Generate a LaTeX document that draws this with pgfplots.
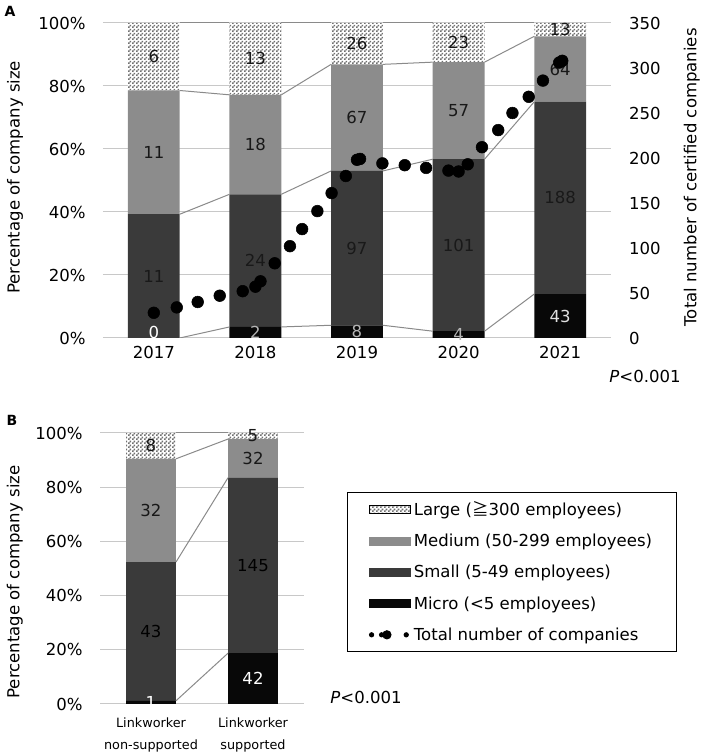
\documentclass[border=0pt]{standalone}
\usepackage{fontspec}
\setmainfont{DejaVu Sans}
\newfontfamily\cjk{Noto Sans CJK JP}
\usepackage{pgfplots}
\pgfplotsset{compat=1.18}
\usetikzlibrary{patterns}

\pgfdeclarepatternformonly{checker}{\pgfpointorigin}{\pgfqpoint{3pt}{3pt}}{\pgfqpoint{3pt}{3pt}}{%
  \pgfpathrectangle{\pgfpointorigin}{\pgfqpoint{1.5pt}{1.5pt}}%
  \pgfpathrectangle{\pgfqpoint{1.5pt}{1.5pt}}{\pgfqpoint{1.5pt}{1.5pt}}%
  \pgfusepath{fill}}

\definecolor{cmed}{HTML}{8C8C8C}
\definecolor{csmall}{HTML}{3A3A3A}
\definecolor{cmicro}{HTML}{080808}
\definecolor{cgrid}{HTML}{C8C8C8}
\definecolor{cconn}{HTML}{8A8A8A}
\definecolor{cdark}{HTML}{181818}
\definecolor{clight}{HTML}{B4B4B4}
\definecolor{cpat}{HTML}{707070}

\newcommand\fz{\fontsize{12.4}{14.5}\selectfont}
\newcommand\fs{\fontsize{9.6}{16.5}\selectfont}

\pgfplotsset{
  base/.style={scale only axis, ymin=0, ymax=100,
    /pgf/number format/assume math mode=true,
    tick style={draw=none}, axis line style={draw=none},
    tick label style={font=\fz}, label style={font=\fz}},
  lab/.style={draw=none, mark=none, forget plot, nodes near coords,
    point meta=explicit symbolic, nodes near coords align=center,
    nodes near coords style={font=\fz, text=#1, inner sep=0pt}},
  conn/.style={cconn, line width=0.75pt, unbounded coords=jump, forget plot, mark=none},
}

\begin{document}
\begin{tikzpicture}
\useasboundingbox (0,0) rectangle (531pt,567pt);

% ---------------- Panel A: bars ----------------
\begin{axis}[base, at={(77.25pt,313.5pt)}, anchor=south west,
  width=381pt, height=236.25pt, xmin=-0.5, xmax=4.5,
  ybar stacked, bar width=0.51,
  ymajorgrids, grid style={cgrid, line width=0.75pt},
  ytick={0,20,...,100}, yticklabel={\pgfmathprintnumber{\tick}\%},
  yticklabel style={xshift=-9.5pt},
  xtick={0,1,2,3,4}, xticklabels={2017,2018,2019,2020,2021},
  xticklabel style={yshift=-2.5pt},
  ylabel={Percentage of company size},
  ylabel style={at={(axis description cs:-0.173,0.51)}, anchor=center}]
\addplot[fill=cmicro, draw=none] coordinates {(0,0) (1,3.509) (2,4.040) (3,2.162) (4,13.961)};
\addplot[fill=csmall, draw=none] coordinates {(0,39.286) (1,42.105) (2,48.990) (3,54.595) (4,61.039)};
\addplot[fill=cmed, draw=none] coordinates {(0,39.286) (1,31.579) (2,33.838) (3,30.811) (4,20.779)};
\addplot[fill=white, draw=none, postaction={pattern=checker, pattern color=cpat}] coordinates {(0,21.429) (1,22.807) (2,13.131) (3,12.432) (4,4.221)};
\end{axis}

% ---------------- Panel A: connectors and labels ----------------
\begin{axis}[base, at={(77.25pt,313.5pt)}, anchor=south west,
  width=381pt, height=236.25pt, xmin=-0.5, xmax=4.5, hide axis, clip=true]
\addplot[conn] coordinates {(0.255,0) (0.745,3.509) (1,nan) (1.255,3.509) (1.745,4.040) (2,nan) (2.255,4.040) (2.745,2.162) (3,nan) (3.255,2.162) (3.745,13.961)};
\addplot[conn] coordinates {(0.255,39.286) (0.745,45.614) (1,nan) (1.255,45.614) (1.745,53.030) (2,nan) (2.255,53.030) (2.745,56.757) (3,nan) (3.255,56.757) (3.745,75.0)};
\addplot[conn] coordinates {(0.255,78.571) (0.745,77.193) (1,nan) (1.255,77.193) (1.745,86.869) (2,nan) (2.255,86.869) (2.745,87.568) (3,nan) (3.255,87.568) (3.745,95.779)};
\addplot[conn] coordinates {(0.255,100) (0.745,100) (1,nan) (1.255,100) (1.745,100) (2,nan) (2.255,100) (2.745,100) (3,nan) (3.255,100) (3.745,100)};
\addplot[lab=cdark] coordinates {(0,89.29)[6] (1,88.60)[13] (2,93.43)[26] (3,93.78)[23] (4,97.89)[13]};
\addplot[lab=cdark] coordinates {(0,58.93)[11] (1,61.40)[18] (2,69.95)[67] (3,72.16)[57] (4,85.39)[64]};
\addplot[lab=black!90] coordinates {(0,19.64)[11] (1,24.56)[24] (2,28.54)[97] (3,29.46)[101] (4,44.48)[188]};
\addplot[lab=white] coordinates {(0,1.6)[0]};
\addplot[lab=clight] coordinates {(1,1.75)[2] (2,2.02)[8] (3,1.08)[4]};
\addplot[lab=white!88!black] coordinates {(4,6.98)[43]};
\end{axis}

% ---------------- Panel A: total number (right axis) ----------------
\begin{axis}[scale only axis, at={(77.25pt,313.5pt)}, anchor=south west,
  width=381pt, height=236.25pt, xmin=-0.5, xmax=4.5, ymin=0, ymax=350,
  /pgf/number format/assume math mode=true,
  axis x line=none, axis y line*=right, axis line style={draw=none},
  tick style={draw=none}, ytick={0,50,...,350},
  tick label style={font=\fz}, label style={font=\fz},
  yticklabel style={xshift=10pt},
  ylabel={Total number of certified companies},
  ylabel style={at={(axis description cs:1.159,0.51)}, anchor=center}]
\addplot[only marks, mark=*, mark size=4.4pt, black] coordinates {
(0,28) (0.226,34) (0.432,40) (0.649,47) (0.875,52) (1.0,57) (1.05,63) (1.19,83)
(1.34,102) (1.46,121) (1.61,141) (1.75,161) (1.89,180) (2.0,198) (2.03,199)
(2.25,194) (2.47,192) (2.68,189) (2.90,186) (3.0,185) (3.09,193) (3.23,212)
(3.39,231) (3.53,250) (3.69,268) (3.83,286) (3.99,306) (4.02,308)};
\end{axis}

% ---------------- Panel B: bars ----------------
\begin{axis}[base, at={(75pt,39pt)}, anchor=south west,
  width=153pt, height=203.25pt, xmin=-0.5, xmax=1.5,
  ybar stacked, bar width=0.49,
  ymajorgrids, grid style={cgrid, line width=0.75pt},
  ytick={0,20,...,100}, yticklabel={\pgfmathprintnumber{\tick}\%},
  yticklabel style={xshift=-9.5pt},
  xtick={0,1}, xticklabels={{Linkworker\\non-supported},{Linkworker\\supported}},
  xticklabel style={font=\fs, align=center, yshift=-7pt},
  ylabel={Percentage of company size},
  ylabel style={at={(axis description cs:-0.417,0.45)}, anchor=center}]
\addplot[fill=cmicro, draw=none] coordinates {(0,1.190) (1,18.75)};
\addplot[fill=csmall, draw=none] coordinates {(0,51.190) (1,64.732)};
\addplot[fill=cmed, draw=none] coordinates {(0,38.095) (1,14.286)};
\addplot[fill=white, draw=none, postaction={pattern=checker, pattern color=cpat}] coordinates {(0,9.524) (1,2.232)};
\end{axis}

% ---------------- Panel B: connectors, labels, legend ----------------
\begin{axis}[base, at={(75pt,39pt)}, anchor=south west,
  width=153pt, height=203.25pt, xmin=-0.5, xmax=1.5, hide axis, clip=false,
  legend style={at={(1.211,0.783)}, anchor=north west, draw=black, line width=0.9pt,
    font=\fz, inner xsep=16pt, inner ysep=5pt, row sep=8.4pt,
    cells={anchor=west}}]
\addplot[conn] coordinates {(0.245,1.190) (0.755,18.75)};
\addplot[conn] coordinates {(0.245,52.381) (0.755,83.482)};
\addplot[conn] coordinates {(0.245,90.476) (0.755,97.768)};
\addplot[conn] coordinates {(0.245,100) (0.755,100)};
\addplot[lab=cdark] coordinates {(0,95.24)[8] (1,98.88)[5]};
\addplot[lab=cdark] coordinates {(0,71.43)[32] (1,90.63)[32]};
\addplot[lab=black] coordinates {(0,26.79)[43] (1,51.12)[145]};
\addplot[lab=white] coordinates {(0,0.60)[1] (1,9.38)[42]};
\addlegendimage{legend image code/.code={\fill[white] (0pt,-3pt) rectangle (30.75pt,3pt);
  \fill[pattern=checker, pattern color=cpat] (0pt,-3pt) rectangle (30.75pt,3pt);}}
\addlegendentry{Large ({\cjk ≧}300 employees)}
\addlegendimage{legend image code/.code={\fill[cmed] (0pt,-3pt) rectangle (30.75pt,3pt);}}
\addlegendentry{Medium (50-299 employees)}
\addlegendimage{legend image code/.code={\fill[csmall] (0pt,-3pt) rectangle (30.75pt,3pt);}}
\addlegendentry{Small (5-49 employees)}
\addlegendimage{legend image code/.code={\fill[cmicro] (0pt,-3pt) rectangle (30.75pt,3pt);}}
\addlegendentry{Micro (<5 employees)}
\addlegendimage{legend image code/.code={\fill[black] (1.5pt,0pt) circle (1.5pt);
  \fill[black] (9pt,0pt) circle (1.5pt); \fill[black] (13pt,0pt) circle (3pt);
  \fill[black] (27.5pt,0pt) circle (1.5pt);}}
\addlegendentry{Total number of companies}
\end{axis}

% ---------------- Annotations ----------------
\node[font=\fontsize{10.5}{12}\selectfont\bfseries] at (7.5pt,558.5pt) {A};
\node[font=\fontsize{10.5}{12}\selectfont\bfseries] at (9pt,252pt) {B};
\node[font=\fz] at (483.75pt,285pt) {\textit{P}<0.001};
\node[font=\fz] at (274.5pt,44.25pt) {\textit{P}<0.001};
\end{tikzpicture}
\end{document}
